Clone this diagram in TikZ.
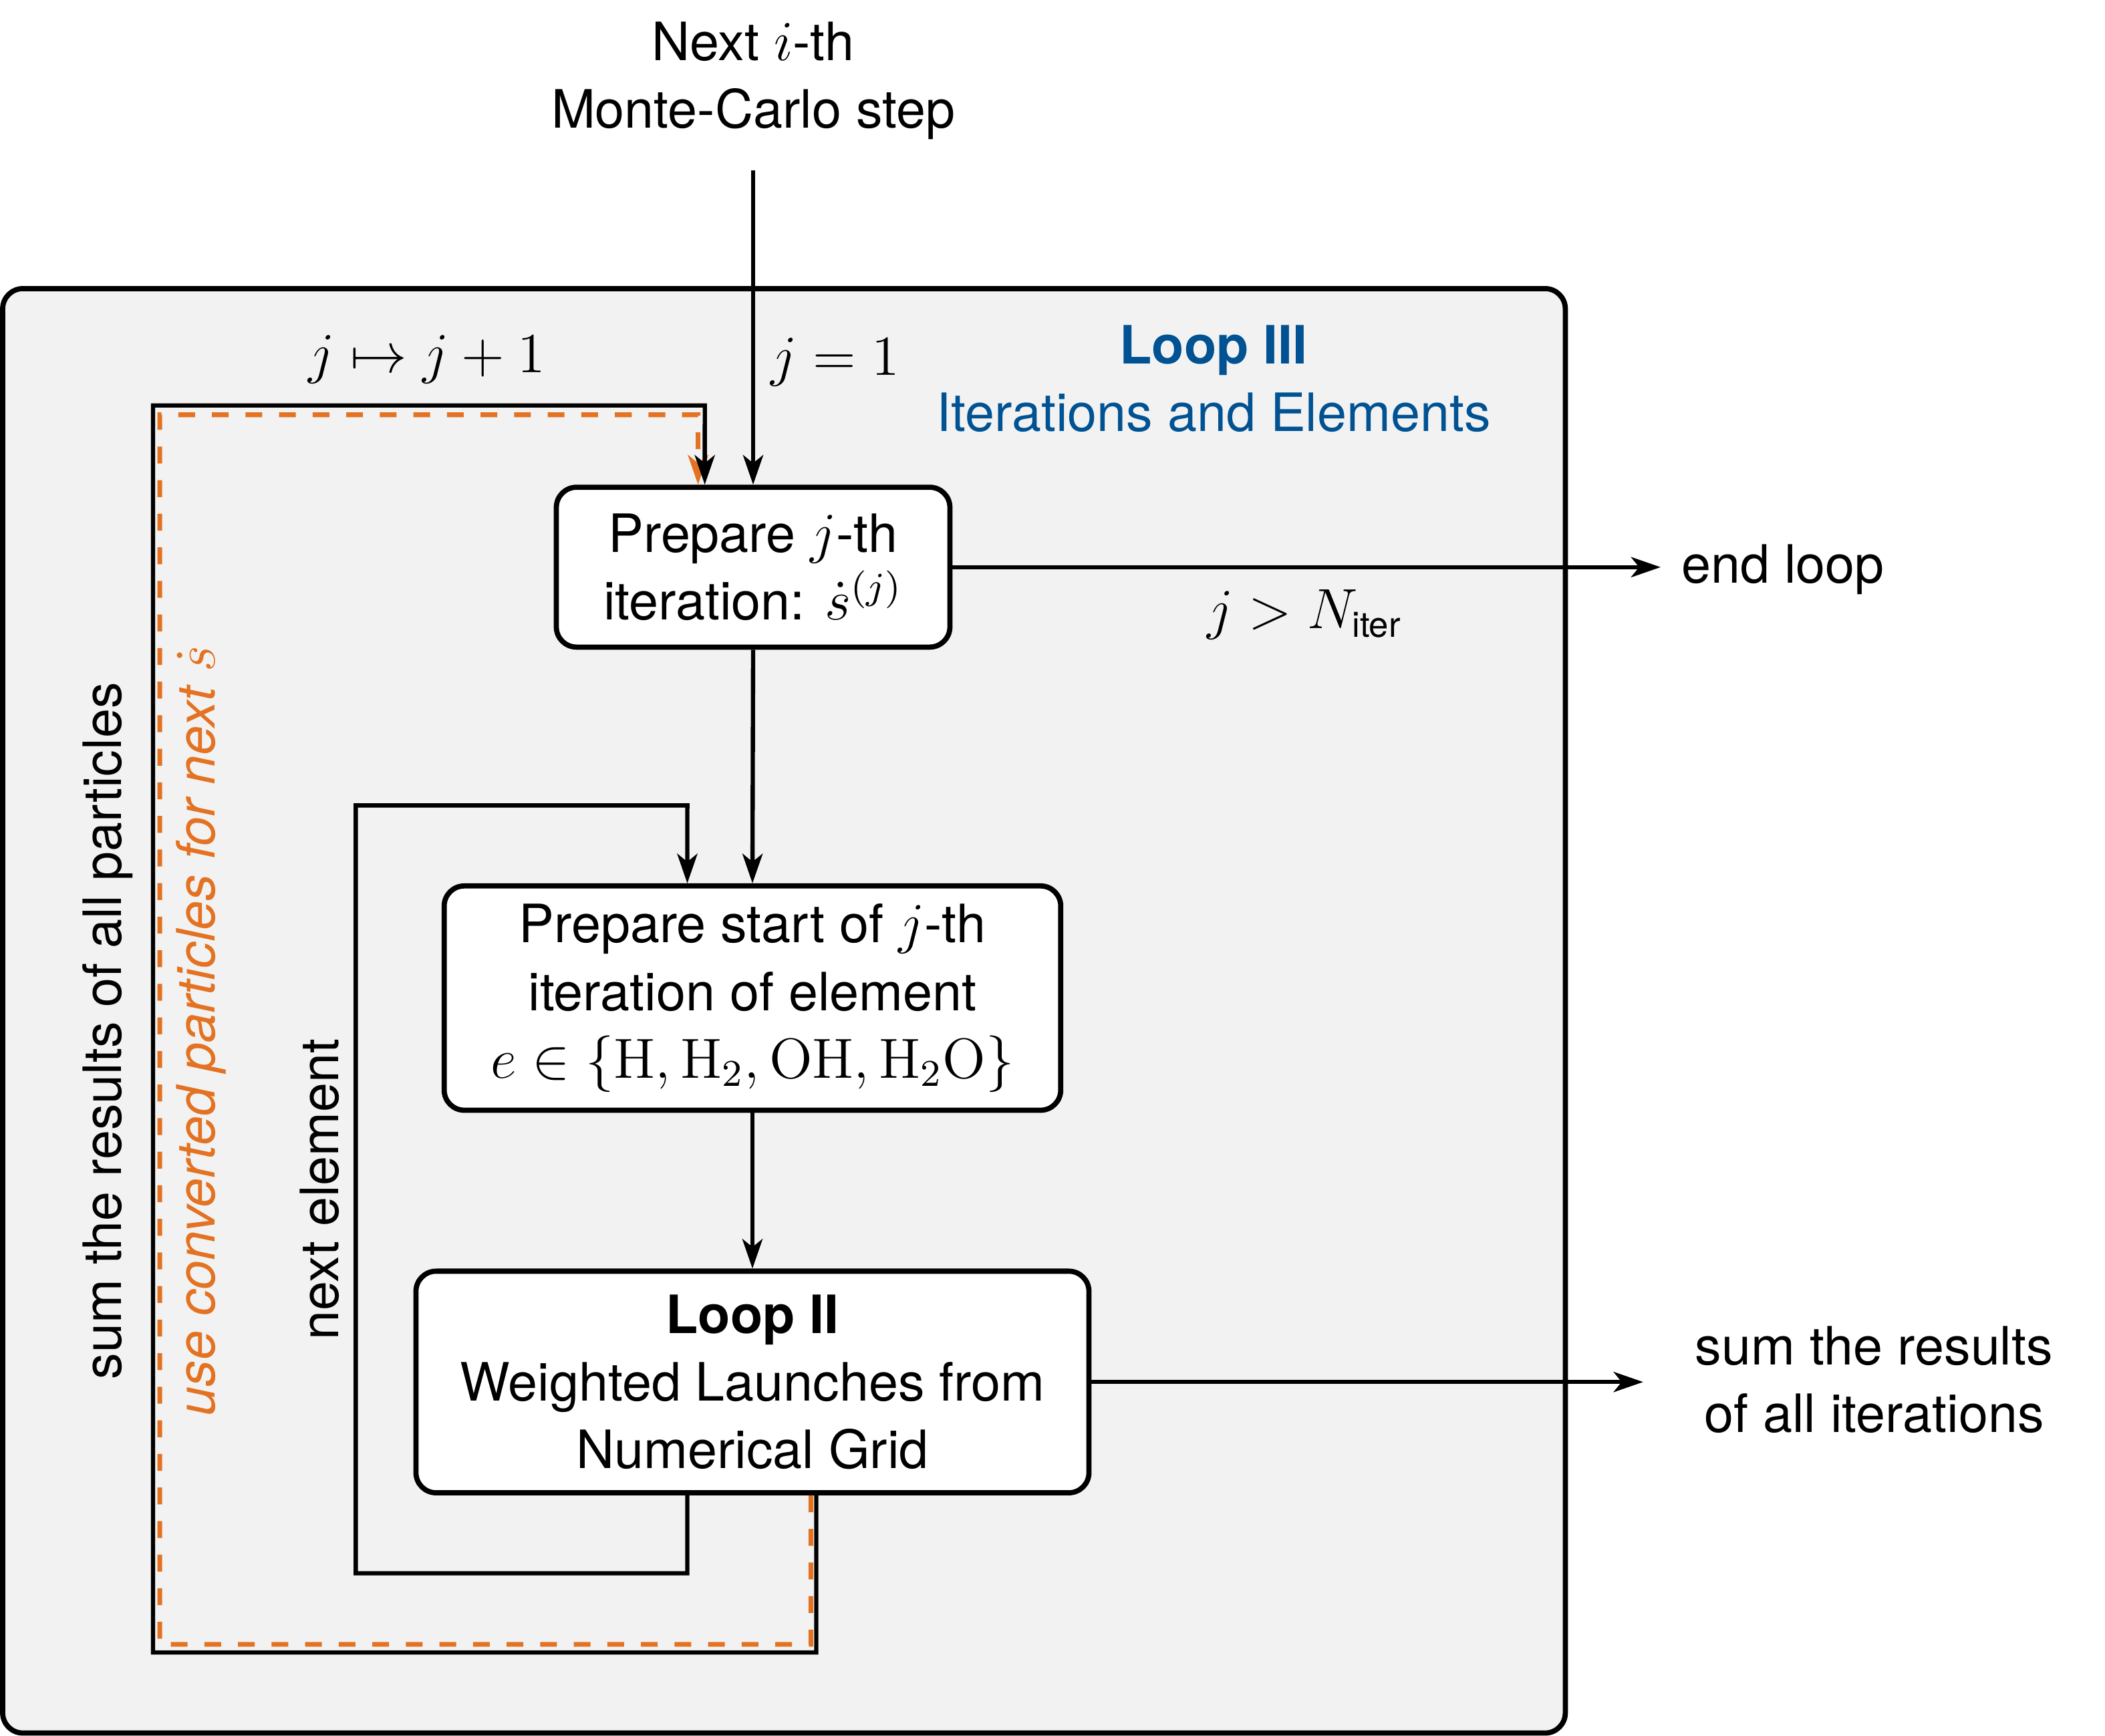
\documentclass[tikz,border=0pt]{standalone}
\usepackage{amsmath}
\usepackage[no-math]{fontspec}
\setmainfont{TeX Gyre Heros}[Scale=0.933]
\usetikzlibrary{arrows.meta}
\definecolor{tumblue}{HTML}{005293}
\definecolor{tumorange}{HTML}{E37222}
\definecolor{bggray}{HTML}{F2F2F2}
\begin{document}
\begin{tikzpicture}[x=0.01cm,y=-0.01cm,
  every node/.style={font=\fontsize{12}{14.3}\selectfont, align=center},
  box/.style={draw, line width=1.1pt, fill=white, rounded corners=1.5mm, inner sep=0pt},
  frame/.style={draw, line width=1.1pt, fill=bggray, rounded corners=1.5mm},
  conn/.style={line width=0.9pt, -{Stealth[length=2.2mm,width=1.5mm,inset=0.6mm]}},
  orangeconn/.style={line width=1pt, tumorange, dash pattern=on 1.25mm off 1.25mm,
    -{Stealth[length=2.2mm,width=1.5mm,inset=0.6mm]}},
  lbl/.style={inner sep=0pt}
]
\useasboundingbox (0,0) rectangle (1568,1293);
\draw[frame] (2,215) rectangle (1166,1291);

% titles
\node[lbl] (next) at (561,60) {Next $i$-th\\Monte-Carlo step};
\node[lbl, text=tumblue] (title) at (904,282) {\textbf{Loop III}\\Iterations and Elements};

% boxes
\node[box, minimum width=2.93cm, minimum height=1.19cm] (A) at (561,422.5)
  {Prepare $j$-th\\iteration: $\dot{s}^{(j)}$};
\node[box, minimum width=4.59cm, minimum height=1.67cm] (B) at (560.5,743.5)
  {Prepare start of $j$-th\\iteration of element\\$e\in\{\mathrm{H},\mathrm{H}_2,\mathrm{OH},\mathrm{H}_2\mathrm{O}\}$};
\node[box, minimum width=5.01cm, minimum height=1.65cm] (C) at (560.5,1029.5)
  {\textbf{Loop II}\\Weighted Launches from\\Numerical Grid};

% outputs
\node[lbl] (endl) at (1328,424) {end loop};
\coordinate (endtip) at (1237,422.5);
\node[lbl] (sumit) at (1396,1028) {sum the results\\of all iterations};
\coordinate (sumtip) at (1224,1029.5);

% labels
\node[lbl] (j1) at (622,270) {$j=1$};
\node[lbl] (jinc) at (318,268) {$j\mapsto j+1$};
\node[lbl] (jgt) at (972,458) {$j>N_{\text{iter}}$};
\node[lbl, rotate=90] (sumlbl) at (80,768) {sum the results of all particles};
\node[lbl, rotate=90, text=tumorange] (uselbl) at (150,768) {\itshape use converted particles for next $\dot{s}$};
\node[lbl, rotate=90] (nextel) at (238,886) {next element};

% connectors
\coordinate (start) at (561,127);
\draw[conn] (start) -- (A.north);
\draw[conn] (A.east) -- (endtip);
\draw[conn] (A.south) -- (B.north);
\draw[conn] (B.south) -- (C.north);
\draw[conn] (C.east) -- (sumtip);

% inner loop
\draw[conn] ([xshift=-4.85mm]C.south) |- (265,1172) |- (512,600) -- ([xshift=-4.85mm]B.north);
% orange loop
\draw[orangeconn] ([xshift=4.35mm]C.south) |- (119,1225) |- (520,309) -- ([xshift=-4.1mm]A.north);
% outer loop
\draw[conn] ([xshift=4.75mm]C.south) |- (114,1231) |- (525,302) -- ([xshift=-3.6mm]A.north);
\end{tikzpicture}
\end{document}
